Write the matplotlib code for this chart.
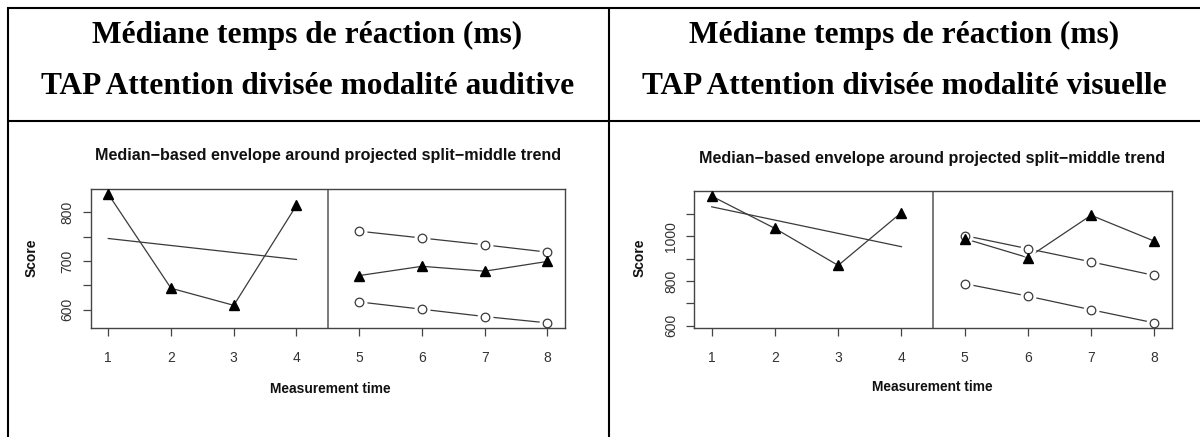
import matplotlib
matplotlib.use("Agg")
import matplotlib.pyplot as plt
from matplotlib.lines import Line2D

W, H = 1200, 437

# ---------------- data ----------------
times = [1, 2, 3, 4, 5, 6, 7, 8]
phase_a = [1, 2, 3, 4]
phase_b = [5, 6, 7, 8]

header_line1 = "Médiane temps de réaction (ms)"
header_left = "TAP Attention divisée modalité auditive"
header_right = "TAP Attention divisée modalité visuelle"
plot_title = "Median\u2212based envelope around projected split\u2212middle trend"
xlabel = "Measurement time"
ylabel = "Score"

# auditory
aud_scores = [837, 644, 609, 814, 670, 689, 679, 699]
aud_trend_a = [746, 703]          # split-middle trend at x=1 and x=4
aud_upper = [761, 747, 733, 718]
aud_lower = [616, 601, 586, 573]
aud_yticks = [600, 650, 700, 750, 800]
aud_ylabels = ["600", "", "700", "", "800"]

# visual
vis_scores = [1181, 1036, 870, 1107, 990, 905, 1095, 979]
vis_trend_a = [1133, 954]
vis_upper = [1004, 945, 886, 825]
vis_lower = [788, 732, 671, 612]
vis_yticks = [600, 700, 800, 900, 1000, 1100]
vis_ylabels = ["600", "", "800", "", "1000", ""]

LC = "#3a3a3a"

fig = plt.figure(figsize=(W / 100, H / 100), dpi=100)
fig.patch.set_facecolor("white")


def px_axes(x0, x1, ytop, ybot):
    return fig.add_axes([x0 / W, 1 - ybot / H, (x1 - x0) / W, (ybot - ytop) / H])


def ftext(x, y, s, **kw):
    fig.text(x / W, 1 - y / H, s, **kw)


def fline(xs, ys, lw=1.5):
    fig.add_artist(Line2D([x / W for x in xs], [1 - y / H for y in ys],
                          color="black", lw=lw, solid_capstyle="butt"))


# ---------------- table ----------------
fline([6.5, 1200], [7.5, 7.5])
fline([6.5, 1200], [120.5, 120.5])
fline([7.5, 7.5], [6.5, 437])
fline([608.5, 608.5], [6.5, 437])

serif = ["Liberation Serif", "DejaVu Serif"]
for cx, l2 in [(307.5, header_left), (904, header_right)]:
    ftext(cx, 43, header_line1, family=serif, fontsize=22.6, weight="bold",
          ha="center", va="baseline")
    ftext(cx, 94, l2, family=serif, fontsize=22.6, weight="bold",
          ha="center", va="baseline")


def panel(x0, x1, ytop, ybot, scores, trend_a, upper, lower, yticks, ylabels, ylim,
          title_y, cx_title):
    ax = px_axes(x0, x1, ytop, ybot)
    ax.set_xlim(0.72, 8.28)
    ax.set_ylim(*ylim)
    # observed data, one line per phase
    ax.plot(phase_a, scores[:4], color=LC, lw=0.9, zorder=2)
    ax.plot(phase_b, scores[4:], color=LC, lw=0.9, zorder=2)
    ax.plot(times, scores, ls="none", marker="^", ms=7.5, color="black", zorder=4)
    # split-middle trend in phase A
    ax.plot([phase_a[0], phase_a[-1]], trend_a, color=LC, lw=0.9, zorder=1)
    # envelope in phase B (type = "b")
    for env in (upper, lower):
        ax.plot(phase_b, env, color=LC, lw=0.9, zorder=1)
        ax.plot(phase_b, env, ls="none", marker="o", ms=11.5, mfc="white",
                mec="none", zorder=2)
        ax.plot(phase_b, env, ls="none", marker="o", ms=6.2, mfc="white",
                mec=LC, mew=0.9, zorder=3)
    ax.axvline(4.5, color="#555555", lw=1.1, zorder=1)
    for s in ax.spines.values():
        s.set_color("#444444")
        s.set_linewidth(1.0)
    ax.set_xticks(times)
    ax.set_xticklabels([str(t) for t in times])
    ax.set_yticks(yticks)
    ax.set_yticklabels(ylabels, rotation=90, va="center")
    ax.tick_params(axis="both", direction="out", length=5.5, width=0.9,
                   colors="#444444", labelcolor="#333333", labelsize=10,
                   labelfontfamily="Liberation Sans")
    ax.tick_params(axis="x", pad=11)
    ax.tick_params(axis="y", pad=6)
    ftext(cx_title, title_y, plot_title, family="Liberation Sans", fontsize=11.6,
          weight="bold", ha="center", va="baseline", color="#111111")
    return ax


panel(90.7, 565, 189, 328, aud_scores, aud_trend_a, aud_upper, aud_lower,
      aud_yticks, aud_ylabels, (562.5, 847.5), 160, 328)
panel(694, 1172, 191, 328, vis_scores, vis_trend_a, vis_upper, vis_lower,
      vis_yticks, vis_ylabels, (589, 1204), 163, 932)

for cx, cy in [(32, 258), (640, 258)]:
    ftext(cx, cy, ylabel, family="Liberation Sans", fontsize=10, weight="bold",
          rotation=90, ha="center", va="center", color="#111111")
for cx, cy in [(330, 389), (932, 387)]:
    ftext(cx, cy, xlabel, family="Liberation Sans", fontsize=9.9, weight="bold",
          ha="center", va="center", color="#111111")

fig.savefig("out.png", dpi=100)
